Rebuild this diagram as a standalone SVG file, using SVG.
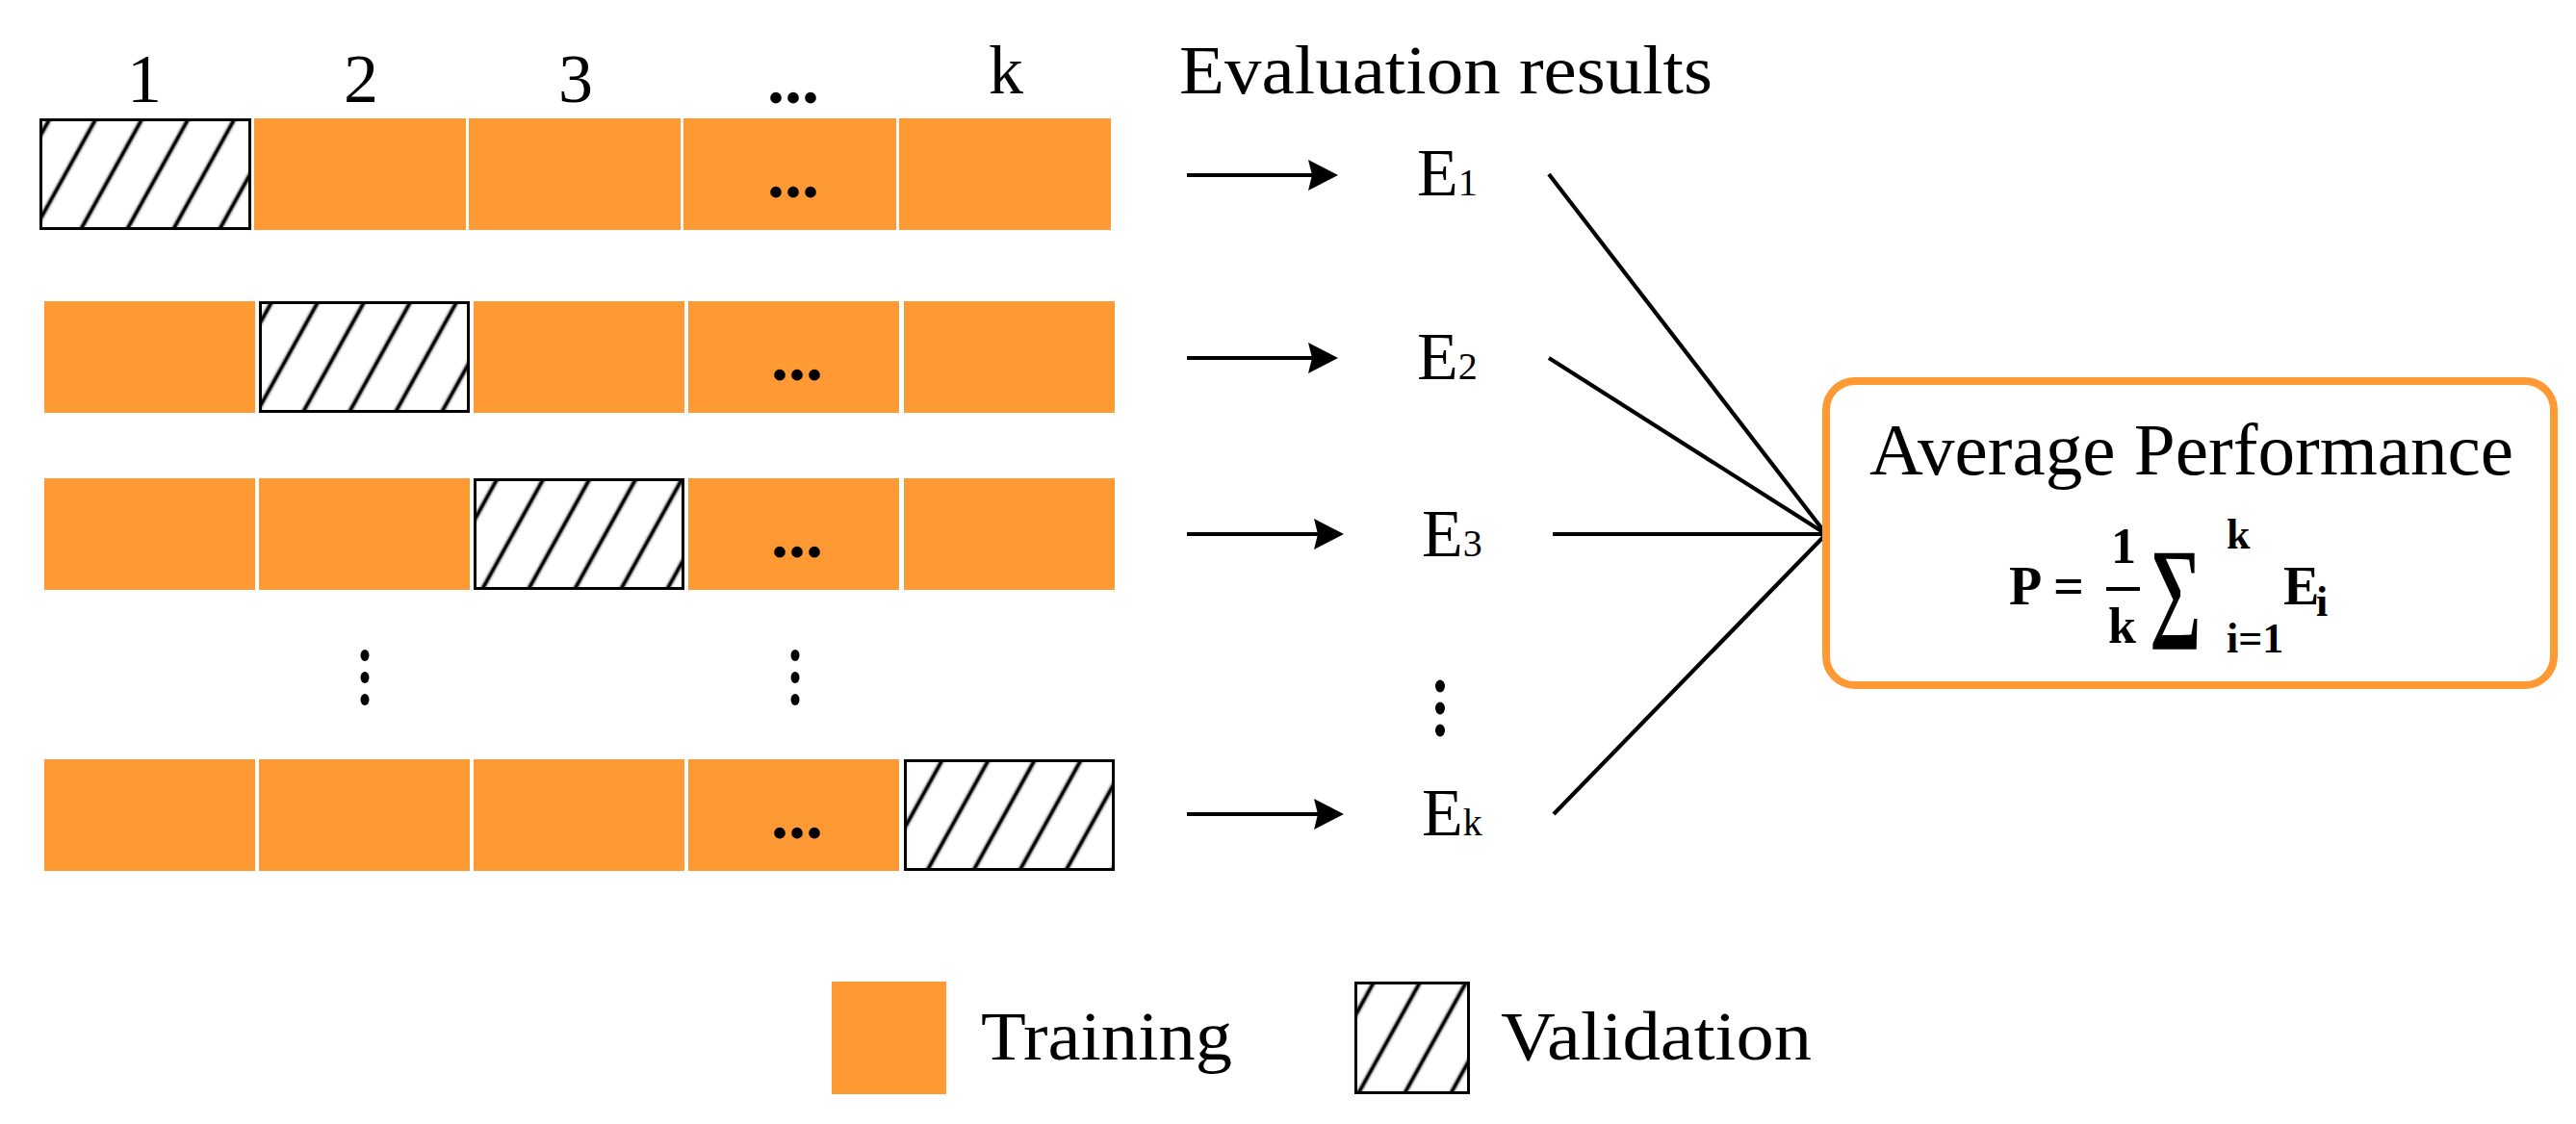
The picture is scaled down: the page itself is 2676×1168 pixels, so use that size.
<svg xmlns="http://www.w3.org/2000/svg" width="2676" height="1168" viewBox="0 0 2676 1168">
<style>
.t{font-family:"Liberation Serif","Times New Roman",serif;fill:#000}
.b{font-weight:bold}
.tr{fill:#FF9933}
.va{fill:url(#hatch);stroke:#000;stroke-width:3}
.dots{font-family:"Liberation Serif",serif;font-weight:bold;font-size:72px;text-anchor:middle}
.ln{stroke:#000;stroke-width:4.2;fill:none}
.ar{stroke:#000;stroke-width:4.2;fill:none;marker-end:url(#ah)}
</style>
<defs>
<pattern id="hatch" patternUnits="userSpaceOnUse" width="42" height="42" patternTransform="rotate(29)">
<rect width="42" height="42" fill="#fff"/>
<line x1="21" y1="-2" x2="21" y2="44" stroke="#c4c4c4" stroke-width="7"/>
<line x1="21" y1="-2" x2="21" y2="44" stroke="#000" stroke-width="3.4"/>
</pattern>
<marker id="ah" markerUnits="userSpaceOnUse" markerWidth="34" markerHeight="34" refX="10" refY="16" orient="auto">
<path d="M0,0 L31,16 L0,32 L4,16 z" fill="#000"/>
</marker>
</defs>
<rect width="2676" height="1168" fill="#fff"/>

<g id="header">
<text class="t" font-size="72" x="150" y="106" text-anchor="middle">1</text>
<text class="t" font-size="72" x="375" y="106" text-anchor="middle">2</text>
<text class="t" font-size="72" x="598" y="106" text-anchor="middle">3</text>
<text class="dots" x="824" y="107">...</text>
<text class="t" font-size="72" x="1045" y="97" text-anchor="middle">k</text>
<text class="t" font-size="72" x="1225" y="97" textLength="554" lengthAdjust="spacingAndGlyphs">Evaluation results</text>
</g>

<g id="fold1">
<rect class="va" x="42.5" y="124.5" width="217" height="113"/>
<rect class="tr" x="264" y="123" width="220" height="116"/>
<rect class="tr" x="487" y="123" width="220" height="116"/>
<rect class="tr" x="710" y="123" width="221" height="116"/>
<rect class="tr" x="934" y="123" width="220" height="116"/>
<text class="dots" x="824" y="205">...</text>
</g>

<g id="fold2">
<rect class="tr" x="46" y="313" width="219" height="116"/>
<rect class="va" x="270.5" y="314.5" width="216" height="113"/>
<rect class="tr" x="492" y="313" width="219" height="116"/>
<rect class="tr" x="715" y="313" width="219" height="116"/>
<rect class="tr" x="939" y="313" width="219" height="116"/>
<text class="dots" x="828" y="395">...</text>
</g>

<g id="fold3">
<rect class="tr" x="46" y="497" width="219" height="116"/>
<rect class="tr" x="269" y="497" width="219" height="116"/>
<rect class="va" x="493.5" y="498.5" width="216" height="113"/>
<rect class="tr" x="715" y="497" width="219" height="116"/>
<rect class="tr" x="939" y="497" width="219" height="116"/>
<text class="dots" x="828" y="579">...</text>
</g>

<g id="vdots">
<ellipse cx="379" cy="681" rx="4.5" ry="6"/>
<ellipse cx="379" cy="704" rx="4.5" ry="6"/>
<ellipse cx="379" cy="727" rx="4.5" ry="6"/>
<ellipse cx="826" cy="681" rx="4.5" ry="6"/>
<ellipse cx="826" cy="704" rx="4.5" ry="6"/>
<ellipse cx="826" cy="727" rx="4.5" ry="6"/>
<ellipse cx="1496" cy="713" rx="5" ry="6.5"/>
<ellipse cx="1496" cy="736" rx="5" ry="6.5"/>
<ellipse cx="1496" cy="759" rx="5" ry="6.5"/>
</g>

<g id="foldk">
<rect class="tr" x="46" y="789" width="219" height="116"/>
<rect class="tr" x="269" y="789" width="219" height="116"/>
<rect class="tr" x="492" y="789" width="219" height="116"/>
<rect class="tr" x="715" y="789" width="219" height="116"/>
<rect class="va" x="940.5" y="790.5" width="216" height="113"/>
<text class="dots" x="828" y="871">...</text>
</g>

<g id="E1"><text class="t" font-size="70" x="1472" y="203">E<tspan font-size="40">1</tspan></text></g>
<g id="E2"><text class="t" font-size="70" x="1472" y="394">E<tspan font-size="40">2</tspan></text></g>
<g id="E3"><text class="t" font-size="70" x="1477" y="578">E<tspan font-size="40">3</tspan></text></g>
<g id="Ek"><text class="t" font-size="70" x="1477" y="868">E<tspan font-size="40">k</tspan></text></g>

<g id="connectors">
<line class="ar" x1="1233" y1="182" x2="1369" y2="182"/>
<line class="ar" x1="1233" y1="372" x2="1369" y2="372"/>
<line class="ar" x1="1233" y1="555" x2="1375" y2="555"/>
<line class="ar" x1="1233" y1="846" x2="1375" y2="846"/>
<line class="ln" x1="1609" y1="181" x2="1897" y2="555"/>
<line class="ln" x1="1609" y1="372" x2="1897" y2="555"/>
<line class="ln" x1="1613" y1="555" x2="1897" y2="555"/>
<line class="ln" x1="1614" y1="846" x2="1897" y2="555"/>
</g>

<g id="average">
<rect x="1897" y="396" width="756" height="316" rx="30" ry="30" fill="#fff" stroke="#FF9933" stroke-width="8"/>
<text class="t" font-size="76" x="1942" y="493" textLength="669" lengthAdjust="spacingAndGlyphs">Average Performance</text>
<text class="t b" font-size="56" x="2087" y="628">P</text>
<text class="t b" font-size="56" x="2133" y="628">=</text>
<text class="t b" font-size="52" x="2193" y="585">1</text>
<line x1="2188" y1="612" x2="2223" y2="612" stroke="#000" stroke-width="4"/>
<text class="t b" font-size="52" x="2190" y="668">k</text>
<text class="t b" font-size="100" transform="translate(2233,650) scale(1,1.15)" x="0" y="0" textLength="54" lengthAdjust="spacingAndGlyphs">∑</text>
<text class="t b" font-size="44" x="2313" y="570">k</text>
<text class="t b" font-size="44" x="2313" y="678">i=1</text>
<text class="t b" font-size="56" x="2372" y="628">E</text>
<text class="t b" font-size="44" x="2406" y="640">i</text>
</g>

<g id="legend">
<rect class="tr" x="864" y="1020" width="119" height="117"/>
<text class="t" font-size="72" x="1019" y="1101" textLength="261" lengthAdjust="spacingAndGlyphs">Training</text>
<rect class="va" x="1408.5" y="1021.5" width="117" height="114"/>
<text class="t" font-size="72" x="1559" y="1101" textLength="323" lengthAdjust="spacingAndGlyphs">Validation</text>
</g>
</svg>
